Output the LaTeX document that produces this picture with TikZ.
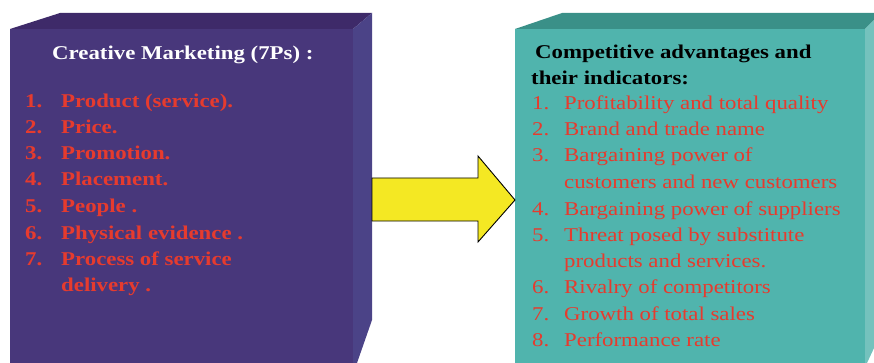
\documentclass[tikz,border=0pt]{standalone}
\usepackage{fontspec}
\setmainfont[FakeStretch=1.17]{Liberation Serif}
\definecolor{pfront}{HTML}{48377B}
\definecolor{ptop}{HTML}{3E2A69}
\definecolor{pside}{HTML}{4B4387}
\definecolor{tfront}{HTML}{50B4AD}
\definecolor{ttop}{HTML}{3A9088}
\definecolor{tside}{HTML}{74C2BD}
\definecolor{redtxt}{HTML}{E63B2E}
\definecolor{arrowy}{HTML}{F4E823}
\tikzset{
  lbl/.style={anchor=base west, inner sep=0pt, font=\fontsize{19.5}{22}\selectfont},
  ltitle/.style={lbl, font=\fontsize{19.5}{22}\selectfont\bfseries, text=white},
  rtitle/.style={lbl, font=\fontsize{19.5}{22}\selectfont\bfseries, text=black},
  litem/.style={lbl, font=\fontsize{19.5}{22}\selectfont\bfseries, text=redtxt},
  ritem/.style={lbl, text=redtxt},
}
\begin{document}
\begin{tikzpicture}[x=1pt,y=-1pt]
\useasboundingbox (0,0) rectangle (874,363);
% left box
\fill[ptop] (10,29) -- (60,13) -- (372,13) -- (353,29) -- cycle;
\fill[pside] (353,29) -- (372,13) -- (372,320) -- (357,363) -- (353,363) -- cycle;
\fill[pfront] (10,29) rectangle (353,363);
\node[inner sep=0pt, minimum width=343pt, minimum height=334pt] (lbox) at (181.5,196) {};
% right box
\fill[ttop] (515,29) -- (562,13) -- (874,13) -- (874,20) -- (865,29) -- cycle;
\fill[tside] (865,29) -- (874,20) -- (874,348) -- (867,363) -- (865,363) -- cycle;
\fill[tfront] (515,29) rectangle (865,363);
\node[inner sep=0pt, minimum width=350pt, minimum height=334pt] (rbox) at (690,196) {};
% arrow
\draw[fill=arrowy, draw=black, line width=0.9pt, line join=miter]
  (372,178) -- (478,178) -- (478,156) -- (515,200) -- (478,242) -- (478,221) -- (372,221) -- cycle;
% left text
\node[ltitle] (lt) at (52,60) {Creative Marketing (7Ps) :};
\foreach \n/\t/\y [count=\i] in {1./Product (service)./108, 2./Price./134, 3./Promotion./160, 4./Placement./186, 5./People ./213, 6./Physical evidence ./239, 7./Process of service/265}{
  \node[litem] (ln\i) at (25,\y) {\n};
  \node[litem] (lx\i) at (61,\y) {\t};
}
\node[litem] (lx8) at (61,291) {delivery .};
% right text
\node[rtitle] (rt1) at (535,59) {Competitive advantages and};
\node[rtitle] (rt2) at (531,85) {their indicators:};
\foreach \n/\t/\y [count=\i] in {1./Profitability and total quality/110, 2./Brand and trade name/136, 3./Bargaining power of/162, {}/customers and new customers/189, 4./Bargaining power of suppliers/215, 5./Threat posed by substitute/241, {}/products and services./267, 6./Rivalry of competitors/293, 7./Growth of total sales/320, 8./Performance rate/346}{
  \node[ritem] (rn\i) at (532,\y) {\n};
  \node[ritem] (rx\i) at (564,\y) {\t};
}
\end{tikzpicture}
\end{document}
